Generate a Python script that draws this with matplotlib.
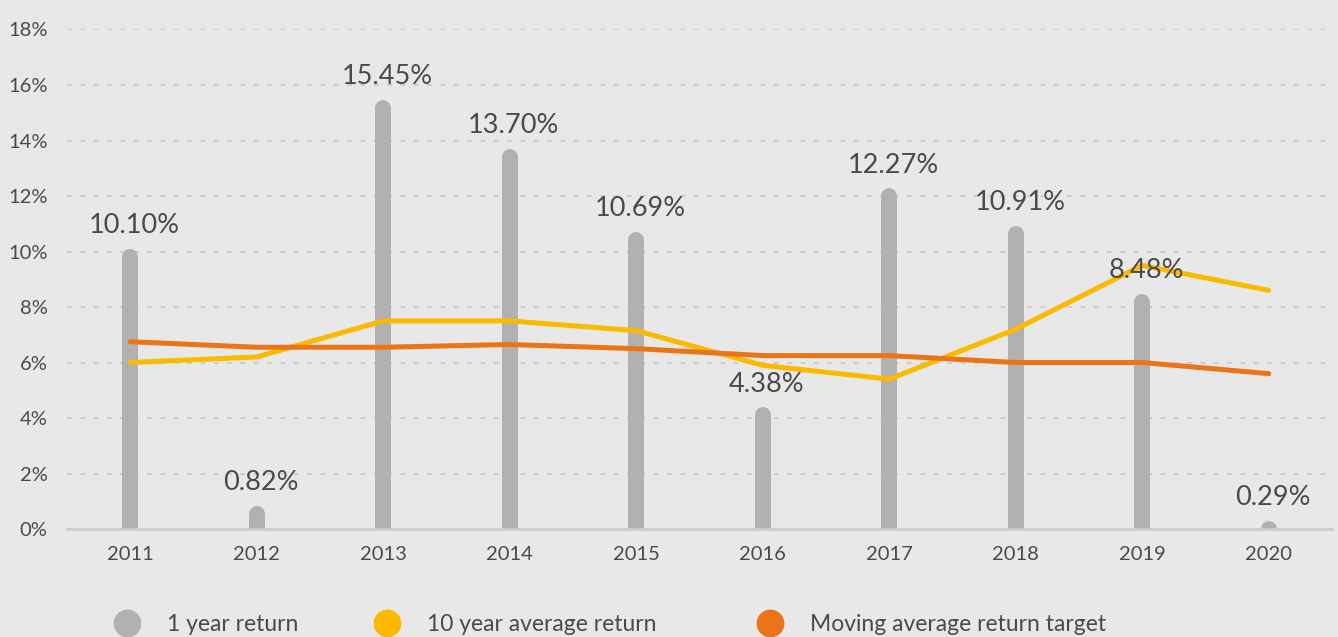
import matplotlib
matplotlib.use("Agg")
import matplotlib.pyplot as plt
from matplotlib.lines import Line2D

years = ["2011", "2012", "2013", "2014", "2015", "2016", "2017", "2018", "2019", "2020"]
one_year = [10.10, 0.82, 15.45, 13.70, 10.69, 4.38, 12.27, 10.91, 8.48, 0.29]
ten_year_avg = [6.0, 6.2, 7.5, 7.5, 7.15, 5.9, 5.4, 7.2, 9.5, 8.6]
target = [6.75, 6.55, 6.55, 6.65, 6.5, 6.25, 6.25, 6.0, 6.0, 5.6]
y_ticks = [0, 2, 4, 6, 8, 10, 12, 14, 16, 18]
series_names = ["1 year return", "10 year average return", "Moving average return target"]

BG = "#e8e8e8"
GREY = "#b1b1b1"
YELLOW = "#fbb900"
ORANGE = "#eb7418"
TEXT = "#4a4a4a"

plt.rcParams["font.family"] = ["Lato", "DejaVu Sans"]

fig = plt.figure(figsize=(13.38, 6.37), dpi=100, facecolor=BG)
ax = fig.add_axes([0.050, 0.1695, 0.9455, 0.7842], facecolor=BG)

x = list(range(len(years)))
ax.set_xlim(-0.5, len(years) - 0.5)
ax.set_ylim(0, 18)

# bars as thick lines with round caps; pull the end down by the cap radius
# and start below zero so the axes clip gives a flat bottom
bar_lw = 11.5
pt_per_unit = (ax.get_position().height * fig.get_figheight() * 72) / 18.0
cap = (bar_lw / 2) / pt_per_unit
for xi, v in zip(x, one_year):
    ax.plot([xi, xi], [-1, v - cap], color=GREY, lw=bar_lw,
            solid_capstyle="round", zorder=2)

ax.plot(x, ten_year_avg, color=YELLOW, lw=3.6, zorder=3, solid_capstyle="round")
ax.plot(x, target, color=ORANGE, lw=3.6, zorder=4, solid_capstyle="round")

for xi, v in zip(x, one_year):
    ax.annotate(f"{v:.2f}%", (xi, v), xytext=(3, 11.5), textcoords="offset points",
                ha="center", va="baseline", fontsize=19.5, color=TEXT, zorder=5)

ax.set_yticks(y_ticks)
ax.set_yticklabels([f"{t}%" for t in y_ticks])
ax.set_xticks(x)
ax.set_xticklabels(years)
ax.tick_params(axis="both", length=0, labelsize=14.5, labelcolor=TEXT)
ax.tick_params(axis="y", pad=14)
ax.tick_params(axis="x", pad=12)

ax.yaxis.grid(True, color="#c9c9c9", linestyle=(0, (3, 5)), lw=1.2)
ax.set_axisbelow(True)
for s in ["top", "right", "left"]:
    ax.spines[s].set_visible(False)
ax.spines["bottom"].set_color("#cccccc")
ax.spines["bottom"].set_linewidth(2)

# one legend per entry so the spacing follows the original
legend_x = [0.0692, 0.2635, 0.5498]
for name, color, lx in zip(series_names, [GREY, YELLOW, ORANGE], legend_x):
    h = Line2D([], [], marker="o", ls="", color=color, markersize=19)
    fig.legend([h], [name], loc="center left", bbox_to_anchor=(lx, 0.02),
               frameon=False, fontsize=16.5, labelcolor=TEXT, handlelength=1.2,
               handletextpad=1.15)

fig.savefig("out.png", dpi=100, facecolor=BG)
